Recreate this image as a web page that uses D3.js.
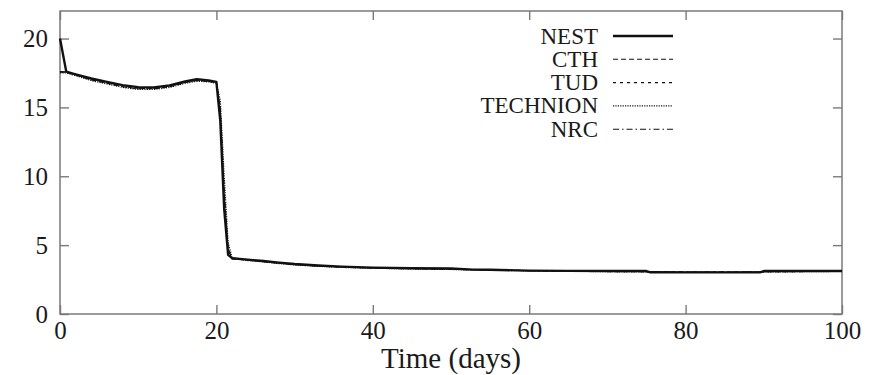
<!DOCTYPE html>
<html>
<head>
<meta charset="utf-8">
<script src="https://cdn.jsdelivr.net/npm/d3@7"></script>
<style>
  html, body { margin: 0; padding: 0; background: #fff; }
  svg { display: block; }
  svg text { font-family: "Liberation Serif", "Times New Roman", Times, Tinos, "DejaVu Serif", "Noto Serif", serif !important; fill: #1a1a1a; }
</style>
</head>
<body>
<svg id="chart" width="877" height="375"></svg>
<script>
// Simulation time (days), shared by all series
const times = [0, 0.8, 2, 4, 6, 8, 10, 12, 14, 16, 17.5, 19, 20, 20.5, 21, 21.5, 22, 24, 26, 28, 30, 33, 36, 40, 45, 50, 52.8, 55, 60, 65, 70, 75, 75.5, 80, 85, 89.5, 90, 95, 100];

// Series values per code
const nest     = [20.0, 17.6, 17.4, 17.1, 16.85, 16.62, 16.47, 16.45, 16.6, 16.88, 17.05, 16.95, 16.85, 14.0, 7.6, 4.3, 4.05, 3.95, 3.85, 3.73, 3.63, 3.52, 3.44, 3.37, 3.32, 3.3, 3.22, 3.21, 3.15, 3.13, 3.12, 3.12, 3.03, 3.02, 3.02, 3.02, 3.12, 3.12, 3.12];
const cth      = [17.55, 17.55, 17.35, 17.0, 16.75, 16.5, 16.35, 16.35, 16.5, 16.8, 16.95, 16.9, 16.8, 15.0, 9.0, 4.8, 4.0, 3.9, 3.8, 3.68, 3.58, 3.48, 3.4, 3.33, 3.28, 3.24, 3.21, 3.19, 3.14, 3.11, 3.08, 3.06, 3.06, 3.04, 3.04, 3.05, 3.06, 3.08, 3.1];
const tud      = [17.6, 17.55, 17.4, 17.05, 16.78, 16.52, 16.38, 16.38, 16.52, 16.82, 16.98, 16.9, 16.82, 14.6, 8.4, 4.6, 4.02, 3.92, 3.82, 3.7, 3.6, 3.5, 3.42, 3.35, 3.3, 3.26, 3.22, 3.2, 3.15, 3.12, 3.1, 3.08, 3.08, 3.05, 3.05, 3.06, 3.07, 3.09, 3.11];
const technion = [17.5, 17.5, 17.3, 16.95, 16.7, 16.45, 16.3, 16.3, 16.45, 16.75, 16.9, 16.85, 16.75, 15.5, 10.0, 5.2, 4.1, 3.88, 3.78, 3.66, 3.56, 3.46, 3.38, 3.32, 3.27, 3.23, 3.2, 3.18, 3.13, 3.1, 3.07, 3.05, 3.05, 3.03, 3.03, 3.04, 3.05, 3.07, 3.09];
const nrc      = [17.6, 17.58, 17.42, 17.08, 16.8, 16.55, 16.4, 16.42, 16.56, 16.85, 17.0, 16.92, 16.84, 14.3, 8.0, 4.5, 4.05, 3.93, 3.83, 3.71, 3.61, 3.51, 3.43, 3.36, 3.31, 3.27, 3.23, 3.2, 3.15, 3.12, 3.1, 3.08, 3.07, 3.05, 3.05, 3.06, 3.08, 3.1, 3.11];

const seriesNames = ["NEST", "CTH", "TUD", "TECHNION", "NRC"];
const seriesValues = [nest, cth, tud, technion, nrc];
const seriesDash = [null, "5,3", "3,4", "1.2,1.2", "6,3,1.5,3"];
const seriesWidth = [2.4, 1.1, 1.1, 1.2, 1.1];

const xTicks = [0, 20, 40, 60, 80, 100];
const yTicks = [0, 5, 10, 15, 20];
const xTitle = "Time (days)";

const svg = d3.select("#chart");
const m = { left: 60, right: 35, top: 11, bottom: 61 };
const W = 877, H = 375;
const iw = W - m.left - m.right, ih = H - m.top - m.bottom;

const x = d3.scaleLinear().domain([0, 100]).range([m.left, m.left + iw]);
const y = d3.scaleLinear().domain([0, 22]).range([m.top + ih, m.top]);

const frameColor = "#7a7a7a";
const tickLen = 9;

function styleAxis(g) {
  g.attr("font-family", null);
  g.select(".domain").remove();
  g.selectAll(".tick line").attr("stroke", frameColor).attr("stroke-width", 1.4);
  g.selectAll(".tick text").attr("fill", "#1a1a1a").style("font-size", "25px");
}

// Bottom and left axes with labels (ticks point inward)
svg.append("g").attr("transform", `translate(0,${m.top + ih})`)
  .call(d3.axisBottom(x).tickValues(xTicks).tickSize(-tickLen).tickPadding(7).tickFormat(d3.format("d")))
  .call(styleAxis);
svg.append("g").attr("transform", `translate(${m.left},0)`)
  .call(d3.axisLeft(y).tickValues(yTicks).tickSize(-tickLen).tickPadding(12).tickFormat(d3.format("d")))
  .call(styleAxis);
// Mirrored ticks on top and right
svg.append("g").attr("transform", `translate(0,${m.top})`)
  .call(d3.axisTop(x).tickValues(xTicks).tickSize(-tickLen).tickFormat(""))
  .call(styleAxis);
svg.append("g").attr("transform", `translate(${m.left + iw},0)`)
  .call(d3.axisRight(y).tickValues(yTicks).tickSize(-tickLen).tickFormat(""))
  .call(styleAxis);

// Frame
svg.append("rect")
  .attr("x", m.left).attr("y", m.top).attr("width", iw).attr("height", ih)
  .attr("fill", "none").attr("stroke", frameColor).attr("stroke-width", 1.5);

// Curves
const line = d3.line().x((d, i) => x(times[i])).y(d => y(d));
const order = [1, 2, 3, 4, 0];
order.forEach(k => {
  svg.append("path")
    .datum(seriesValues[k])
    .attr("d", line)
    .attr("fill", "none")
    .attr("stroke", "#111")
    .attr("stroke-width", seriesWidth[k])
    .attr("stroke-dasharray", seriesDash[k])
    .attr("stroke-linejoin", "round");
});

// Legend
const legend = svg.append("g");
seriesNames.forEach((name, i) => {
  const yy = 36 + i * 23.3;
  legend.append("text")
    .attr("x", 598).attr("y", yy).attr("dy", "0.33em")
    .attr("text-anchor", "end").style("font-size", "23px").text(name);
  legend.append("line")
    .attr("x1", 613).attr("x2", 673).attr("y1", yy).attr("y2", yy)
    .attr("stroke", "#111").attr("stroke-width", seriesWidth[i])
    .attr("stroke-dasharray", seriesDash[i]);
});

// Axis title
svg.append("text")
  .attr("x", x(50)).attr("y", 368)
  .attr("text-anchor", "middle").style("font-size", "29px").text(xTitle);
</script>
</body>
</html>
